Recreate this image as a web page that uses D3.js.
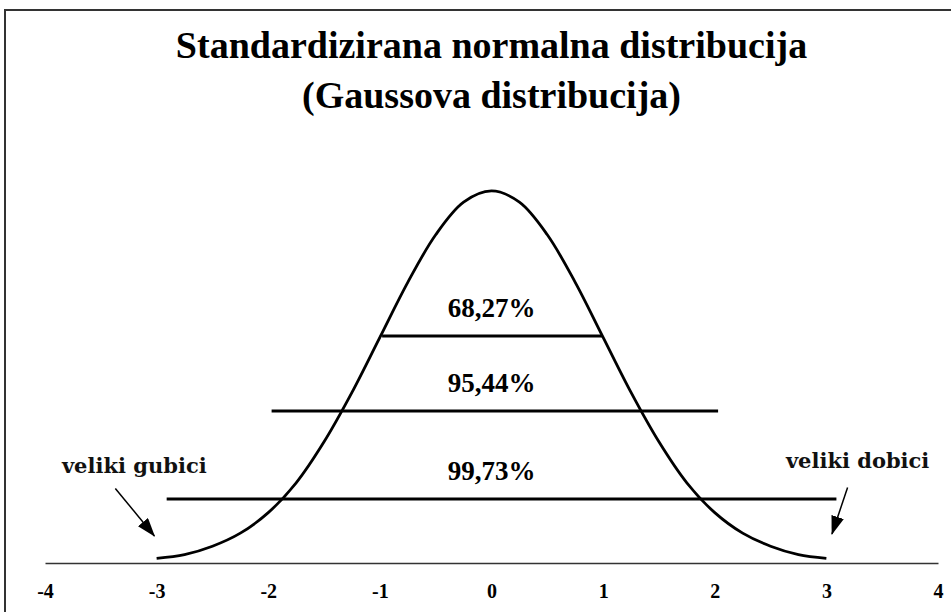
<!DOCTYPE html>
<html>
<head>
<meta charset="utf-8">
<script src="https://cdn.jsdelivr.net/npm/d3@7"></script>
<style>
  body { margin: 0; background: #fff; }
  svg { display: block; }
</style>
</head>
<body>
<div id="chart"></div>
<script>
// z values and density
var curveZ = [-3, -2.75, -2.5, -2.25, -2, -1.75, -1.5, -1.25, -1, -0.75, -0.5, -0.25, 0,
              0.25, 0.5, 0.75, 1, 1.25, 1.5, 1.75, 2, 2.25, 2.5, 2.75, 3];
var curveDensity = [0.005, 0.009, 0.018, 0.032, 0.054, 0.086, 0.130, 0.183, 0.242, 0.301, 0.352, 0.387, 0.399,
                    0.387, 0.352, 0.301, 0.242, 0.183, 0.130, 0.086, 0.054, 0.032, 0.018, 0.009, 0.005];

var tickValues = [-4, -3, -2, -1, 0, 1, 2, 3, 4];

// the three horizontal bands
var bandLabels = ["68,27%", "95,44%", "99,73%"];
var bandFrom = [-0.98, -1.97, -2.91];
var bandTo = [0.99, 2.03, 3.09];
var bandLevel = [0.2434, 0.163, 0.0686];

// arrow notes at the tails
var noteLabels = ["veliki gubici", "veliki dobici"];
var noteZ = [-3.2, 3.28];
var noteLevel = [0.097, 0.102];
var arrowFromZ = [-3.37, 3.19];
var arrowFromLevel = [0.080, 0.081];
var arrowToZ = [-3.02, 3.05];
var arrowToLevel = [0.029, 0.031];

var titleLines = ["Standardizirana normalna distribucija", "(Gaussova distribucija)"];

var svg = d3.select("#chart")
    .append("svg")
    .attr("width", 951)
    .attr("height", 612);

/*frame*/
svg.append("rect")
    .attr("x", 5)
    .attr("y", 10)
    .attr("width", 960)
    .attr("height", 620)
    .attr("fill", "none")
    .attr("stroke", "#333")
    .attr("stroke-width", 2);

var xScale = d3.scaleLinear().domain([-4, 4]).range([45, 938]);
var yScale = d3.scaleLinear().domain([0, 0.4]).range([563, 190]);

/*title*/
svg.selectAll(".title")
    .data(titleLines)
    .join("text")
    .attr("class", "title")
    .attr("x", xScale(0))
    .attr("y", function(d, i) { return 58 + i * 50; })
    .attr("text-anchor", "middle")
    .attr("font-family", "'Liberation Serif', 'Times New Roman', serif")
    .attr("font-weight", "bold")
    .attr("font-size", 38)
    .attr("fill", "#000")
    .text(function(d) { return d; });

/*x axis*/
var axis = svg.append("g")
    .attr("transform", "translate(0," + yScale(0) + ")")
    .call(d3.axisBottom(xScale)
        .tickValues(tickValues)
        .tickSize(0)
        .tickSizeOuter(0)
        .tickPadding(21)
        .tickFormat(function(d) { return String(d); }));

axis.select(".domain")
    .attr("stroke", "#333")
    .attr("stroke-width", 1.5);

axis.selectAll("text")
    .attr("font-family", "'Liberation Serif', 'Times New Roman', serif")
    .attr("font-weight", "bold")
    .attr("font-size", 20)
    .attr("fill", "#000");

/*bell curve*/
var curvePoints = curveZ.map(function(z, i) { return [z, curveDensity[i]]; });

svg.append("path")
    .datum(curvePoints)
    .attr("fill", "none")
    .attr("stroke", "#000")
    .attr("stroke-width", 2.8)
    .attr("d", d3.line()
        .x(function(d) { return xScale(d[0]); })
        .y(function(d) { return yScale(d[1]); })
        .curve(d3.curveCatmullRom));

/*bands*/
var bands = bandLabels.map(function(label, i) {
    return { label: label, from: bandFrom[i], to: bandTo[i], level: bandLevel[i] };
});

svg.selectAll(".band")
    .data(bands)
    .join("line")
    .attr("class", "band")
    .attr("x1", function(d) { return xScale(d.from); })
    .attr("x2", function(d) { return xScale(d.to); })
    .attr("y1", function(d) { return yScale(d.level); })
    .attr("y2", function(d) { return yScale(d.level); })
    .attr("stroke", "#000")
    .attr("stroke-width", 3);

svg.selectAll(".bandLabel")
    .data(bands)
    .join("text")
    .attr("class", "bandLabel")
    .attr("x", xScale(0))
    .attr("y", function(d) { return yScale(d.level) - 19; })
    .attr("text-anchor", "middle")
    .attr("font-family", "'Liberation Serif', 'Times New Roman', serif")
    .attr("font-weight", "bold")
    .attr("font-size", 27)
    .attr("fill", "#000")
    .text(function(d) { return d.label; });

/*arrow notes*/
svg.append("defs")
    .append("marker")
    .attr("id", "head")
    .attr("markerUnits", "userSpaceOnUse")
    .attr("viewBox", "0 0 19 13")
    .attr("refX", 18)
    .attr("refY", 6.5)
    .attr("markerWidth", 19)
    .attr("markerHeight", 13)
    .attr("orient", "auto")
    .append("path")
    .attr("d", "M0,0L19,6.5L0,13Z")
    .attr("fill", "#000");

var notes = noteLabels.map(function(label, i) {
    return {
        label: label, z: noteZ[i], level: noteLevel[i],
        fz: arrowFromZ[i], fl: arrowFromLevel[i], tz: arrowToZ[i], tl: arrowToLevel[i]
    };
});

svg.selectAll(".arrow")
    .data(notes)
    .join("line")
    .attr("class", "arrow")
    .attr("x1", function(d) { return xScale(d.fz); })
    .attr("y1", function(d) { return yScale(d.fl); })
    .attr("x2", function(d) { return xScale(d.tz); })
    .attr("y2", function(d) { return yScale(d.tl); })
    .attr("stroke", "#000")
    .attr("stroke-width", 1.5)
    .attr("marker-end", "url(#head)");

svg.selectAll(".note")
    .data(notes)
    .join("text")
    .attr("class", "note")
    .attr("x", function(d) { return xScale(d.z); })
    .attr("y", function(d) { return yScale(d.level); })
    .attr("text-anchor", "middle")
    .attr("font-family", "'DejaVu Serif', serif")
    .attr("font-weight", "bold")
    .attr("font-size", 21)
    .attr("fill", "#111")
    .text(function(d) { return d.label; });
</script>
</body>
</html>
